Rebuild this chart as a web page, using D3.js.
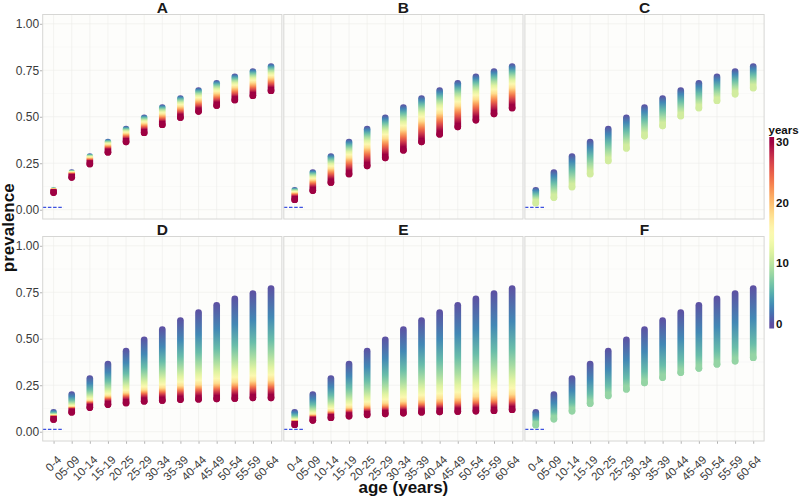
<!DOCTYPE html>
<html>
<head>
<meta charset="utf-8">
<script src="https://cdn.jsdelivr.net/npm/d3@7"></script>
<style>
  body { margin: 0; background: #fff; }
  text { font-family: "Liberation Sans", Arial, sans-serif; }
</style>
</head>
<body>
<script>

// age groups on the x axis
var ageGroups = ["0-4", "05-09", "10-14", "15-19", "20-25", "25-29", "30-34",
                 "35-39", "40-44", "45-49", "50-54", "55-59", "60-64"];
var panelNames = ["A", "B", "C", "D", "E", "F"];

// prevalence at year 0 (same start in every panel)
var prevStart = [0.104, 0.199, 0.286, 0.364, 0.433, 0.494, 0.549, 0.598, 0.640, 0.680, 0.714, 0.743, 0.770];

// prevalence at the last year shown in each panel
var prevEndA = [0.092, 0.174, 0.246, 0.309, 0.365, 0.414, 0.457, 0.496, 0.529, 0.561, 0.590, 0.613, 0.640];
var prevEndB = [0.054, 0.103, 0.147, 0.192, 0.236, 0.279, 0.320, 0.365, 0.406, 0.446, 0.482, 0.516, 0.547];
var prevEndC = [0.036, 0.065, 0.122, 0.192, 0.263, 0.331, 0.396, 0.451, 0.504, 0.547, 0.586, 0.622, 0.655];
var prevEndD = [0.066, 0.105, 0.130, 0.146, 0.155, 0.164, 0.168, 0.173, 0.175, 0.177, 0.179, 0.182, 0.182];
var prevEndE = [0.038, 0.061, 0.075, 0.084, 0.091, 0.096, 0.100, 0.105, 0.107, 0.109, 0.111, 0.113, 0.118];
var prevEndF = [0.036, 0.068, 0.111, 0.152, 0.193, 0.229, 0.263, 0.291, 0.318, 0.341, 0.363, 0.380, 0.398];

// years read along each column, and how far the drop has gone at that year (0 = start, 1 = end)
var yearsA = [0, 3, 6, 9, 12, 15, 18, 21, 24, 27, 30];
var dropA  = [0, 0.10, 0.20, 0.30, 0.40, 0.50, 0.60, 0.70, 0.80, 0.90, 1];
var yearsB = [0, 3, 6, 9, 12, 15, 18, 21, 24, 27, 30];
var dropB  = [0, 0.11, 0.21, 0.31, 0.41, 0.50, 0.60, 0.68, 0.78, 0.88, 1];
var yearsC = [0, 3, 6, 9, 11];
var dropC  = [0, 0.27, 0.55, 0.82, 1];
var yearsD = [0, 3, 6, 9, 12, 15, 18, 21, 24, 27, 30];
var dropD  = [0, 0.29, 0.50, 0.64, 0.75, 0.82, 0.87, 0.90, 0.93, 0.96, 1];
var yearsE = [0, 3, 6, 9, 12, 15, 18, 21, 24, 27, 30];
var dropE  = [0, 0.30, 0.52, 0.67, 0.78, 0.85, 0.90, 0.93, 0.955, 0.975, 1];
var yearsF = [0, 3, 6, 8];
var dropF  = [0, 0.48, 0.85, 1];

var yTicks = [0, 0.25, 0.5, 0.75, 1];
var yMinor = [0.125, 0.375, 0.625, 0.875];
var legendTicks = [0, 10, 20, 30];
var refLine = 0.012;   // dashed blue reference near zero

var endList = [prevEndA, prevEndB, prevEndC, prevEndD, prevEndE, prevEndF];
var yearList = [yearsA, yearsB, yearsC, yearsD, yearsE, yearsF];
var dropList = [dropA, dropB, dropC, dropD, dropE, dropF];

var w = 800, h = 501;
var svg = d3.select("body").append("svg")
  .attr("width", w)
  .attr("height", h);
var defs = svg.append("defs");

var panelW = 239.2, panelH = 204.5, gapX = 1.9;
var lefts = [42.7, 42.7 + panelW + gapX, 42.7 + 2 * (panelW + gapX)];
var tops = [14.5, 236.5];
var ptR = 3.35;

var x = d3.scalePoint().domain(ageGroups).range([0, panelW]).padding(0.6);
var y = d3.scaleLinear().domain([-0.05, 1.05]).range([panelH, 0]);
var colour = function(yr) { return d3.interpolateSpectral(1 - yr / 30); };

panelNames.forEach(function(name, p) {
  var col = p % 3, row = Math.floor(p / 3);
  var ox = lefts[col], oy = tops[row];
  var g = svg.append("g")
    .attr("transform", "translate(" + ox + "," + oy + ")");

  g.append("rect")
    .attr("width", panelW).attr("height", panelH)
    .attr("fill", "#fdfdfb");

  // grid
  g.selectAll(".minor").data(yMinor).enter().append("line")
    .attr("x1", 0).attr("x2", panelW)
    .attr("y1", function(d) { return y(d); }).attr("y2", function(d) { return y(d); })
    .attr("stroke", "#f5f5f2").attr("stroke-width", 0.5);
  g.selectAll(".major").data(yTicks).enter().append("line")
    .attr("x1", 0).attr("x2", panelW)
    .attr("y1", function(d) { return y(d); }).attr("y2", function(d) { return y(d); })
    .attr("stroke", "#ededea").attr("stroke-width", 0.6);
  g.selectAll(".vgrid").data(ageGroups).enter().append("line")
    .attr("x1", function(d) { return x(d); }).attr("x2", function(d) { return x(d); })
    .attr("y1", 0).attr("y2", panelH)
    .attr("stroke", "#ededea").attr("stroke-width", 0.6);

  // dashed reference
  g.append("line")
    .attr("x1", 0).attr("x2", x(ageGroups[0]) + 0.55 * x.step())
    .attr("y1", y(refLine)).attr("y2", y(refLine))
    .attr("stroke", "#3d52e0").attr("stroke-width", 1.2)
    .attr("stroke-dasharray", "3.5,1.7");

  var years = yearList[p], drops = dropList[p], ends = endList[p];

  ageGroups.forEach(function(age, j) {
    var cx = x(age);
    var vals = drops.map(function(f) { return prevStart[j] - f * (prevStart[j] - ends[j]); });
    var y0 = y(vals[0]), y1 = y(vals[vals.length - 1]);
    var id = "col" + p + "x" + j;

    // later years are drawn over earlier ones, so each colour shows
    // from half a point above its centre
    var grad = defs.append("linearGradient")
      .attr("id", id)
      .attr("gradientUnits", "userSpaceOnUse")
      .attr("x1", 0).attr("x2", 0)
      .attr("y1", oy + y0 - ptR).attr("y2", oy + y1 - ptR);
    years.forEach(function(yr, k) {
      grad.append("stop")
        .attr("offset", ((y(vals[k]) - y0) / (y1 - y0)).toFixed(4))
        .attr("stop-color", colour(yr));
    });

    svg.append("rect")
      .attr("x", ox + cx - ptR)
      .attr("y", oy + y0 - ptR)
      .attr("width", 2 * ptR)
      .attr("height", (y1 - y0) + 2 * ptR)
      .attr("rx", ptR).attr("ry", ptR)
      .attr("fill", "url(#" + id + ")");

    // last year point on top
    svg.append("circle")
      .attr("cx", ox + cx)
      .attr("cy", oy + y1)
      .attr("r", ptR)
      .attr("fill", colour(years[years.length - 1]));
  });

  svg.append("rect")
    .attr("x", ox).attr("y", oy)
    .attr("width", panelW).attr("height", panelH)
    .attr("fill", "none")
    .attr("stroke", "#d6d6d4").attr("stroke-width", 1);

  // strip title
  svg.append("text")
    .attr("x", ox + panelW / 2)
    .attr("y", oy - 1.8)
    .attr("text-anchor", "middle")
    .attr("font-size", "15.5px")
    .attr("font-weight", "bold")
    .attr("fill", "#1a1a1a")
    .text(name);

  if (col === 0) {
    var ya = g.append("g").call(d3.axisLeft(y).tickValues(yTicks).tickSize(2.75)
      .tickFormat(d3.format(".2f")));
    ya.select(".domain").remove();
    ya.selectAll("line").attr("stroke", "#b3b3b3");
    ya.selectAll("text")
      .attr("font-size", "12px")
      .attr("fill", "#3a3a3a")
      .attr("x", -3.5);
  }

  if (row === 1) {
    var xa = g.append("g")
      .attr("transform", "translate(0," + panelH + ")")
      .call(d3.axisBottom(x).tickSize(2.75));
    xa.select(".domain").remove();
    xa.selectAll("line").attr("stroke", "#b3b3b3");
    xa.selectAll("text")
      .attr("font-size", "11.5px")
      .attr("fill", "#3a3a3a")
      .attr("text-anchor", "end")
      .attr("x", 0).attr("y", 0).attr("dy", 0)
      .attr("transform", "translate(8,19.5) rotate(-45)");
  }
});

// axis titles
svg.append("text")
  .attr("transform", "translate(13.5," + (tops[0] + (tops[1] + panelH - tops[0]) / 2) + ") rotate(-90)")
  .attr("text-anchor", "middle")
  .attr("font-size", "17px")
  .attr("font-weight", "bold")
  .attr("fill", "#111")
  .text("prevalence");

svg.append("text")
  .attr("x", lefts[0] + (lefts[2] + panelW - lefts[0]) / 2)
  .attr("y", 493)
  .attr("text-anchor", "middle")
  .attr("font-size", "17px")
  .attr("font-weight", "bold")
  .attr("fill", "#111")
  .text("age (years)");

// colour bar legend
var ly = d3.scaleLinear().domain([0, 30]).range([324, 142]);
var lgrad = defs.append("linearGradient")
  .attr("id", "legendGrad")
  .attr("gradientUnits", "userSpaceOnUse")
  .attr("x1", 0).attr("x2", 0)
  .attr("y1", ly(0)).attr("y2", ly(30));
d3.range(0, 31).forEach(function(yr) {
  lgrad.append("stop").attr("offset", yr / 30).attr("stop-color", colour(yr));
});

svg.append("rect")
  .attr("x", 769.3).attr("y", ly(30) - 5)
  .attr("width", 4.8).attr("height", ly(0) - ly(30) + 9.5)
  .attr("fill", "url(#legendGrad)");

svg.append("text")
  .attr("x", 768.5).attr("y", 134)
  .attr("font-size", "11.5px")
  .attr("font-weight", "bold")
  .attr("fill", "#111")
  .text("years");

svg.selectAll(".ltick")
  .data(legendTicks)
  .enter()
  .append("text")
  .attr("x", 776)
  .attr("y", function(d) { return ly(d); })
  .attr("dy", "0.36em")
  .attr("font-size", "11.5px")
  .attr("font-weight", "bold")
  .attr("fill", "#111")
  .text(function(d) { return d; });

</script>
</body>
</html>
